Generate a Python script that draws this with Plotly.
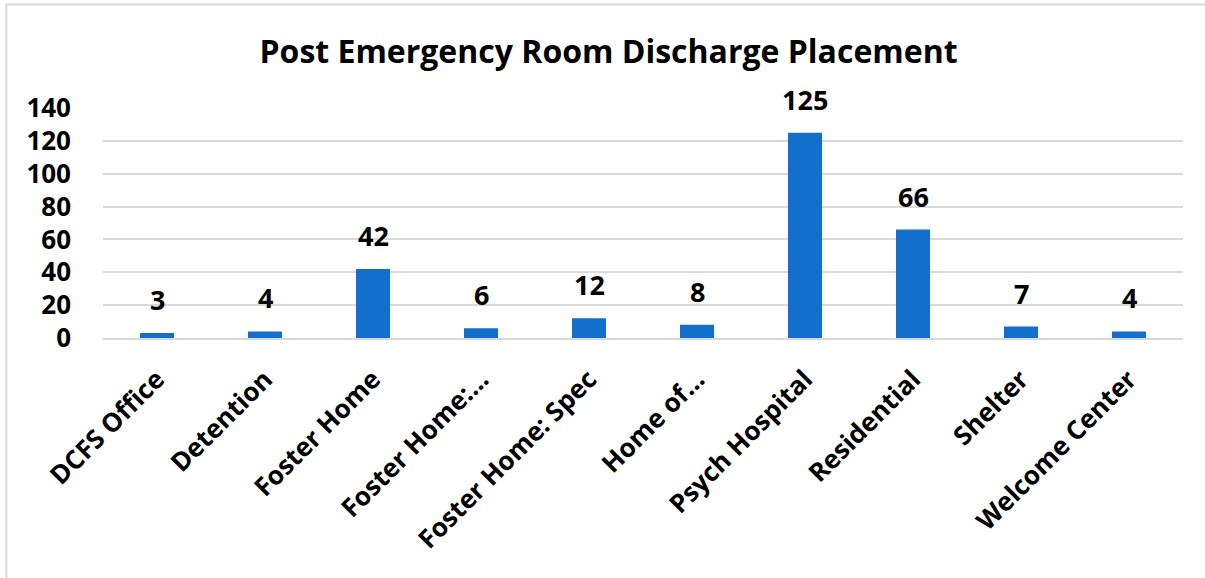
import plotly.graph_objects as go

categories = ['DCFS Office', 'Detention', 'Foster Home', 'Foster Home:...',
              'Foster Home: Spec', 'Home of...', 'Psych Hospital',
              'Residential', 'Shelter', 'Welcome Center']
counts = [3, 4, 42, 6, 12, 8, 125, 66, 7, 4]

font_name = 'Open Sans'

fig = go.Figure(go.Bar(
    x=categories,
    y=counts,
    marker=dict(color='#1270cc', line=dict(width=0)),
    hoverinfo='x+y',
))

# value labels sit a bit higher above the bars than plotly's own outside text
for cat, val in zip(categories, counts):
    fig.add_annotation(x=cat, y=val, text=str(val), showarrow=False,
                       yanchor='bottom', yshift=13,
                       font=dict(family=font_name, size=27, color='black',
                                 weight='bold'))

fig.update_layout(
    width=1205, height=578,
    margin=dict(l=103, r=22, t=108, b=240),
    paper_bgcolor='white',
    plot_bgcolor='white',
    bargap=0.685,
    showlegend=False,
    title=dict(text='<b>Post Emergency Room Discharge Placement</b>',
               x=0.505, xanchor='center', y=0.91, yanchor='middle',
               font=dict(family=font_name, size=32, color='black')),
    font=dict(family=font_name, color='black'),
)

fig.update_xaxes(
    tickangle=-45,
    tickfont=dict(family=font_name, size=26, color='black', weight='bold'),
    showline=True, linecolor='#d9d9d9', linewidth=1.5,
    ticks='', ticklabelstandoff=14,
)
fig.update_yaxes(
    range=[0, 140], dtick=20,
    tickfont=dict(family=font_name, size=26, color='black', weight='bold'),
    showgrid=True, gridcolor='#d9d9d9', gridwidth=1.5,
    zeroline=False, ticks='', ticklabelstandoff=31,
)

# light chart border, only the left and top edges fall inside the picture
fig.add_shape(type='rect', xref='paper', yref='paper',
              x0=-0.0895, x1=1.05, y0=-1.2, y1=1.45,
              line=dict(color='#d9d9d9', width=2), layer='below')

fig.write_html("out.html", config={'displayModeBar': False},
               post_script="document.body.style.margin='0px';")
